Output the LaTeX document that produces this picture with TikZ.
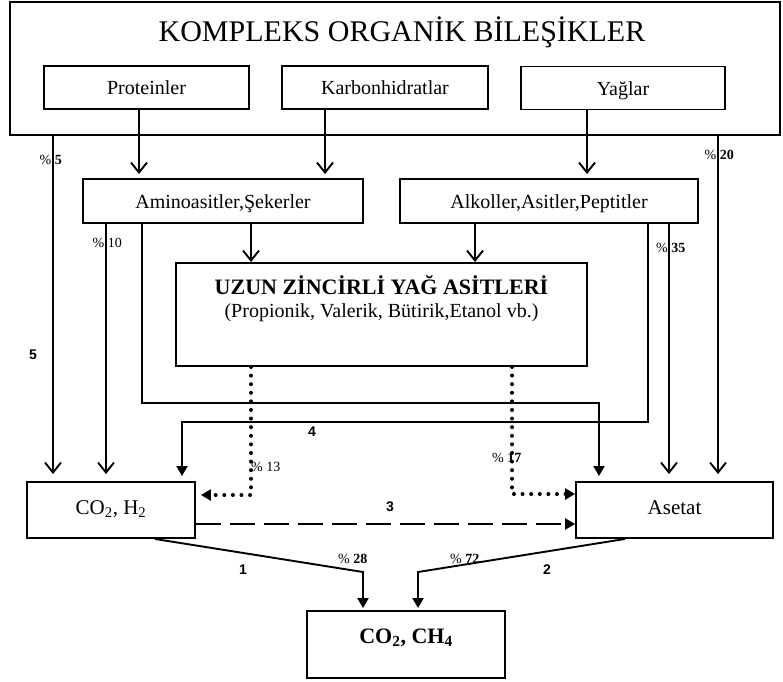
\documentclass[tikz,border=0pt]{standalone}
\usepackage{fontspec}
\setmainfont{Liberation Serif}
\newfontfamily\arial{Liberation Sans}
\usetikzlibrary{arrows.meta,positioning,calc}

\begin{document}
\begin{tikzpicture}[
  x=1pt, y=-1pt,
  block/.style={draw, line width=1.9pt, minimum width=#1, minimum height=43pt, inner sep=0pt, text height=14pt, text depth=0pt, font=\fontsize{20}{24}\selectfont},
  arrow/.style={-{Straight Barb[length=10pt,width=16pt]}, line width=1.9pt},
  fillarrow/.style={-{Triangle[length=10pt,width=11pt]}, line width=1.9pt},
  dotarrow/.style={-{Triangle[length=10pt,width=11pt]}, line width=4pt, line cap=round, dash pattern=on 0pt off 8.6pt},
  dasharrow/.style={-{Triangle[length=10pt,width=11pt]}, line width=2.8pt, dash pattern=on 25pt off 9pt},
  pct/.style={font=\fontsize{14}{16}\selectfont, inner sep=0pt, anchor=base west},
  num/.style={font=\arial\bfseries\fontsize{14}{16}\selectfont, inner sep=0pt}
]
  \useasboundingbox (0,0) rectangle (783,681);

  % Kompleks organik bilesikler
  \node[draw, line width=1.9pt, minimum width=770pt, minimum height=133pt] (kompleks) at (395,68.5) {};
  \node[anchor=base, font=\fontsize{30}{36}\selectfont] (baslik) at (402,41) {KOMPLEKS ORGANİK BİLEŞİKLER};
  \node[block=205pt] (protein) at (146.5,87.5) {Proteinler};
  \node[block=206pt] (karbon) at (385,87.5) {Karbonhidratlar};
  \node[block=204pt] (yag) at (623,88) {Yağlar};

  % Ara urunler
  \node[block=280pt, minimum height=44pt] (amino) at (223,201) {Aminoasitler,Şekerler};
  \node[block=298pt, minimum height=44pt] (alkol) at (549,201) {Alkoller,Asitler,Peptitler};

  % Uzun zincirli yag asitleri
  \node[block=411pt, minimum height=103pt] (uzun) at (381.5,314.5) {};
  \node[anchor=base, font=\fontsize{22}{26}\selectfont\bfseries] (uzunbaslik) at ($(uzun.north)+(0,32)$) {UZUN ZİNCİRLİ YAĞ ASİTLERİ};
  \node[anchor=base, font=\fontsize{20}{24}\selectfont] (uzunalt) at ($(uzun.north)+(0,55)$) {(Propionik, Valerik, Bütirik,Etanol vb.)};

  % Son urunler
  \node[block=168pt, minimum height=56pt, text depth=6pt, font=\fontsize{21}{25}\selectfont] (co2h2) at (111,510) {CO\textsubscript{2}, H\textsubscript{2}};
  \node[block=197pt, minimum height=56pt, text depth=6pt, font=\fontsize{21}{25}\selectfont] (asetat) at (674.5,510) {Asetat};
  \node[block=198pt, minimum height=67pt, text height=15pt, text depth=18pt, font=\fontsize{22}{26}\selectfont\bfseries] (metan) at (406,644.5) {CO\textsubscript{2}, CH\textsubscript{4}};

  % Hidroliz
  \draw[arrow, shorten >=4pt] ([xshift=-7.5pt]protein.south) -- ([xshift=-7.5pt]protein.south |- amino.north);
  \draw[arrow, shorten >=4pt] ([xshift=-60pt]karbon.south) -- ([xshift=-60pt]karbon.south |- amino.north);
  \draw[arrow, shorten >=4pt] ([xshift=-36pt]yag.south) -- ([xshift=-36pt]yag.south |- alkol.north);
  \draw[arrow] ([xshift=28pt]amino.south) -- ([xshift=28pt]amino.south |- uzun.north);
  \draw[arrow] ([xshift=-74pt]alkol.south) -- ([xshift=-74pt]alkol.south |- uzun.north);

  % Dogrudan yollar
  \draw[arrow, shorten >=7pt] ([xshift=-342pt]kompleks.south) -- ([xshift=-342pt]kompleks.south |- co2h2.north);
  \draw[arrow, shorten >=7pt] ([xshift=-117pt]amino.south) -- ([xshift=-117pt]amino.south |- co2h2.north);
  \draw[arrow, shorten >=7pt] ([xshift=120pt]alkol.south) -- ([xshift=120pt]alkol.south |- asetat.north);
  \draw[arrow, shorten >=7pt] ([xshift=323pt]kompleks.south) -- ([xshift=323pt]kompleks.south |- asetat.north);

  % Yol 4
  \draw[fillarrow, shorten >=5pt] ([xshift=-81pt]amino.south) -- ++(0,179) -| ([xshift=-75.5pt]asetat.north);
  \draw[fillarrow, shorten >=5pt] ([xshift=99pt]alkol.south) -- ++(0,198) -| ([xshift=71pt]co2h2.north);

  % Noktali yollar
  \draw[dotarrow, shorten >=5pt] ([xshift=-130.5pt]uzun.south) |- ([yshift=15pt]co2h2.east);
  \draw[dotarrow] ([xshift=130.5pt]uzun.south) |- ([yshift=16pt]asetat.west);

  % Yol 3
  \draw[dasharrow] ([yshift=-14pt]co2h2.east) -- ([yshift=-14pt]asetat.west);

  % Metan olusumu
  \coordinate (k1) at (363,572);
  \coordinate (k2) at (418,572);
  \draw[fillarrow, shorten >=2pt] ([xshift=44pt]co2h2.south) -- (k1) -- (k1 |- metan.north);
  \draw[fillarrow, shorten >=2pt] ([xshift=-49.5pt]asetat.south) -- (k2) -- (k2 |- metan.north);

  % Yuzdeler
  \node[pct] (p5) at (39.5,164) {\% \textbf{5}};
  \node[pct] (p20) at (704.5,159) {\% \textbf{20}};
  \node[pct] (p10) at (92.5,247) {\% 10};
  \node[pct] (p35) at (656,252) {\% \textbf{35}};
  \node[pct] (p13) at (251,471) {\% 13};
  \node[pct] (p17) at (492,462) {\% \textbf{17}};
  \node[pct] (p28) at (338,563) {\% \textbf{28}};
  \node[pct] (p72) at (450,563) {\% \textbf{72}};

  % Yol numaralari
  \node[num] (n1) at (243,570) {1};
  \node[num] (n2) at (547,570) {2};
  \node[num] (n3) at (390,507) {3};
  \node[num] (n4) at (312,432) {4};
  \node[num] (n5) at (33,355) {5};
\end{tikzpicture}
\end{document}
